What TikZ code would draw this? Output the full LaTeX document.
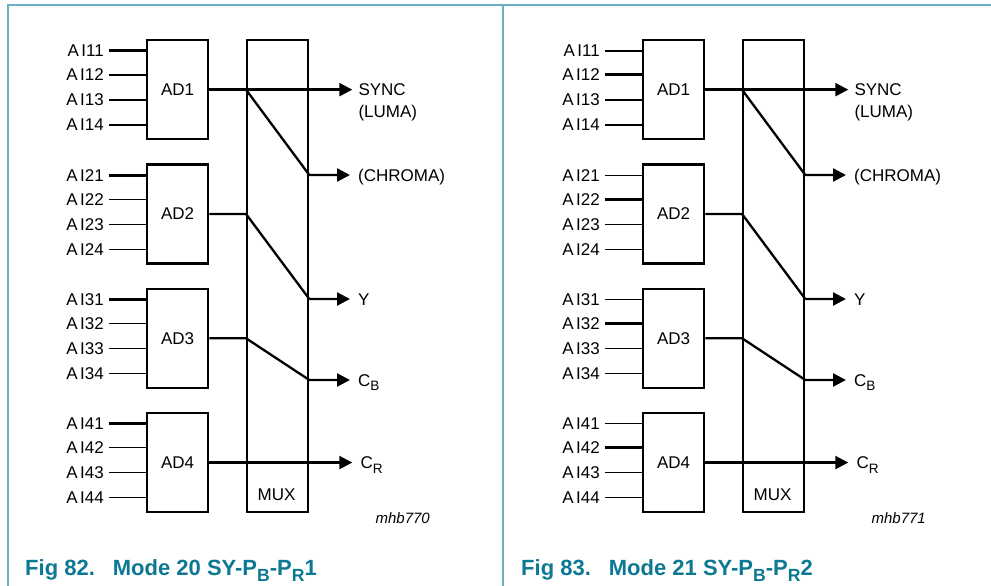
\documentclass[tikz,border=0pt]{standalone}
\usepackage{fontspec}
\setmainfont{Liberation Sans}
\usetikzlibrary{arrows.meta}
\definecolor{framecol}{RGB}{110,175,198}
\definecolor{capcol}{RGB}{12,120,146}
\newcommand{\lowsub}[1]{\raisebox{-0.28em}{\scalebox{0.8}{#1}}}

\begin{document}
\begin{tikzpicture}[x=1pt, y=-1pt,
	blk/.style={draw, line width=2.3pt, minimum width=61pt, minimum height=99pt,
		inner sep=0pt, anchor=north west, font=\fontsize{17}{20}\selectfont},
	inlbl/.style={anchor=east, inner sep=0pt, font=\fontsize{17}{20}\selectfont},
	outlbl/.style={anchor=west, inner sep=0pt, text height=12pt, text depth=0pt,
		font=\fontsize{17}{20}\selectfont},
	wire/.style={line width=2.3pt},
	outarrow/.style={line width=2.3pt, -{Triangle[length=13pt,width=13pt]}}
	]
	
	\useasboundingbox (0,0) rectangle (991,586);
	
	% Frame
	\draw[framecol, line width=1.6pt] (8,586) -- (8,5) -- (991,5);
	\draw[framecol, line width=1.6pt] (503,5) -- (503,586);
	
	% Two figures, side by side
	\foreach \dx/\tk/\fig/\mode/\code in {0/1/82/20/770, 496/2/83/21/771} {
		\begin{scope}[xshift=\dx pt]
			
			% ADC blocks and inputs
			\foreach \i in {1,...,4} {
				\pgfmathsetmacro{\adtop}{39+124.3*(\i-1)}
				\node[blk] (ad\i) at (146,\adtop) {AD\i};
				\foreach \j/\dy in {1/12,2/36,3/61,4/86} {
					\pgfmathsetmacro{\lw}{(\j==\tk) ? 3 : 1.1}
					\node[inlbl] (ai\i\j) at (104,\adtop+\dy) {A\kern2.5pt I\i\j};
					\draw[line width=\lw pt] ([xshift=5pt]ai\i\j.east) -- (ai\i\j.east -| ad\i.west);
				}
			}
			
			% Multiplexer
			\node[blk, minimum height=472pt] (mux) at (246,39) {};
			\node[font=\fontsize{17}{20}\selectfont] (muxlbl) at (276.5,495) {MUX};
			
			% Output points
			\coordinate (p1) at ([xshift=143pt]ad1.east);
			\coordinate (p2) at (350,175);
			\coordinate (p3) at (350,299);
			\coordinate (p4) at (350,380);
			\coordinate (p5) at ([xshift=143pt]ad4.east);
			
			% Output labels
			\node[outlbl, anchor=north west, align=left, text height=] (o1)
			at ([xshift=6pt,yshift=6pt]p1) {SYNC\\[2pt](LUMA)};
			\node[outlbl] (o2) at ([xshift=8pt]p2) {(CHROMA)};
			\node[outlbl] (o3) at ([xshift=8pt]p3) {Y};
			\node[outlbl] (o4) at ([xshift=8pt]p4) {C\lowsub{B}};
			\node[outlbl] (o5) at ([xshift=8pt]p5) {C\lowsub{R}};
			
			% Routing through the mux
			\draw[outarrow] (ad1.east) -- (p1);
			\draw[outarrow] (mux.west |- p1) -- (mux.east |- p2) -- (p2);
			\draw[outarrow] (ad2.east) -- (mux.west |- ad2.east) -- (mux.east |- p3) -- (p3);
			\draw[outarrow] (ad3.east) -- (mux.west |- ad3.east) -- (mux.east |- p4) -- (p4);
			\draw[outarrow] (ad4.east) -- (p5);
			
			% Drawing code and caption
			\node[anchor=base east, inner sep=0pt, font=\fontsize{15}{18}\selectfont\itshape]
			(tag) at (430,523) {mhb\code};
			\node[anchor=base west, inner sep=0pt, text=capcol, font=\fontsize{22}{26}\selectfont\bfseries]
			(cap) at (25,575) {Fig \fig.\hspace{18pt}Mode \mode\ SY-P\lowsub{B}-P\lowsub{R}\tk};
			
		\end{scope}
	}
	
\end{tikzpicture}
\end{document}
